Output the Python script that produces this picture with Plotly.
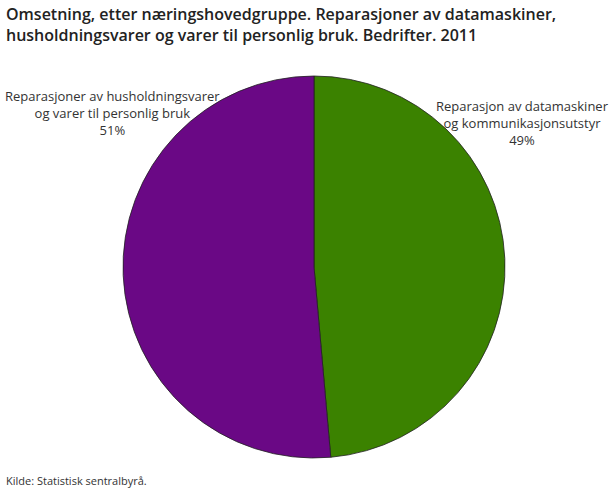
import plotly.graph_objects as go

# data
labels = [
    "Reparasjon av datamaskiner og kommunikasjonsutstyr",
    "Reparasjoner av husholdningsvarer og varer til personlig bruk",
]
shares = [48.6, 51.4]
pct_text = ["49%", "51%"]
colors = ["#3b8200", "#6a0885"]

title_text = ("Omsetning, etter næringshovedgruppe. Reparasjoner av datamaskiner,<br>"
              "husholdningsvarer og varer til personlig bruk. Bedrifter. 2011")
source_text = "Kilde: Statistisk sentralbyrå."

W, H = 610, 488
cx, cy, r = 314, 267, 191

fig = go.Figure(go.Pie(
    labels=labels,
    values=shares,
    sort=False,
    direction="clockwise",
    rotation=0,
    marker=dict(colors=colors, line=dict(color="#222222", width=0.8)),
    textinfo="none",
    hoverinfo="label+percent",
    showlegend=False,
    domain=dict(x=[(cx - r) / W, (cx + r) / W],
                y=[1 - (cy + r) / H, 1 - (cy - r) / H]),
))

# slice labels, placed like the original (top corners, no connectors)
label_font = dict(family="Open Sans", size=13, color="#333333")
fig.add_annotation(
    text="Reparasjon av datamaskiner<br>og kommunikasjonsutstyr<br>" + pct_text[0],
    x=522 / W, y=1 - 95 / H, xref="paper", yref="paper",
    xanchor="center", yanchor="top", align="center",
    showarrow=False, font=label_font,
)
fig.add_annotation(
    text="Reparasjoner av husholdningsvarer<br>og varer til personlig bruk<br>" + pct_text[1],
    x=112 / W, y=1 - 85 / H, xref="paper", yref="paper",
    xanchor="center", yanchor="top", align="center",
    showarrow=False, font=label_font,
)

fig.add_annotation(
    text=title_text, x=4 / W, y=1 - 1 / H, xref="paper", yref="paper",
    xanchor="left", yanchor="top", align="left", showarrow=False,
    font=dict(family="Open Sans", size=16, color="#222222", weight=600),
)
fig.add_annotation(
    text=source_text, x=4 / W, y=1 - 471 / H, xref="paper", yref="paper",
    xanchor="left", yanchor="top", align="left", showarrow=False,
    font=dict(family="Open Sans", size=11, color="#333333"),
)

fig.update_layout(
    width=W, height=H,
    margin=dict(l=0, r=0, t=0, b=0),
    paper_bgcolor="white",
    plot_bgcolor="white",
)

fig.write_html("out.html",
               config={"displayModeBar": False},
               post_script="document.body.style.margin='0';"
                           "document.body.style.overflow='hidden';")
